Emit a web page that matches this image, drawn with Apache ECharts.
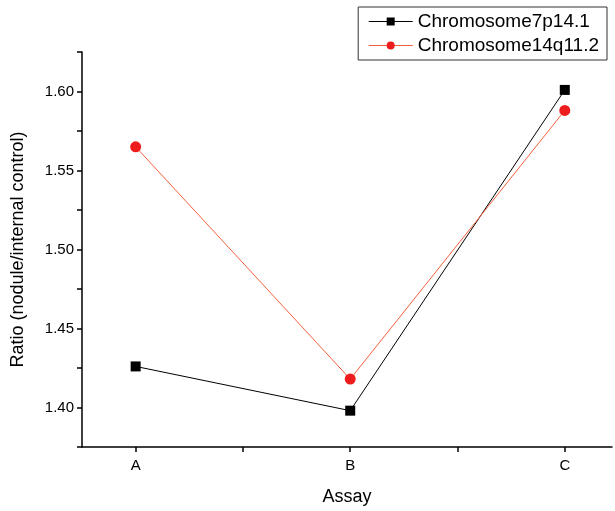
<!DOCTYPE html>
<html>
<head>
<meta charset="utf-8">
<script src="https://cdn.jsdelivr.net/npm/echarts@6/dist/echarts.min.js"></script>
<style>
  html, body { margin: 0; padding: 0; background: #fff; }
  #chart { width: 615px; height: 511px; }
</style>
</head>
<body>
<div id="chart"></div>
<script>
var categories = ['A', 'B', 'C'];
var chr7 = [1.426, 1.398, 1.601];
var chr14 = [1.565, 1.418, 1.588];
var yLabels = [1.40, 1.45, 1.50, 1.55, 1.60];

var xPos = categories.map(function (c, i) { return i + 1; });
function pairs(vals) {
	return vals.map(function (v, i) { return [xPos[i], v]; });
}

var font = 'Liberation Sans, Arial, sans-serif';
var chart = echarts.init(document.getElementById('chart'));
chart.setOption({
	animation: false,
	grid: { left: 82, right: 3, top: 52, bottom: 63 },
	legend: {
		orient: 'vertical',
		right: 8,
		top: 7,
		padding: [5, 8, 5, 10],
		itemGap: 5,
		itemWidth: 44,
		itemHeight: 10,
		borderColor: '#333',
		borderWidth: 1,
		lineStyle: { width: 1 },
		textStyle: { fontFamily: font, fontSize: 19, color: '#000' },
		data: ['Chromosome7p14.1', 'Chromosome14q11.2']
	},
	xAxis: {
		type: 'value',
		min: 0.75,
		max: 3.22,
		name: 'Assay',
		nameLocation: 'middle',
		nameGap: 41,
		nameTextStyle: { fontFamily: font, fontSize: 18, color: '#000' },
		splitLine: { show: false },
		axisLine: { lineStyle: { color: '#000', width: 1.5 } },
		axisTick: {
			show: true, length: 5, inside: false,
			lineStyle: { color: '#000', width: 1.5 },
			customValues: [1, 1.5, 2, 2.5, 3]
		},
		axisLabel: {
			customValues: xPos,
			margin: 11,
			fontFamily: font, fontSize: 15, color: '#000',
			formatter: function (v) { return categories[Math.round(v) - 1]; }
		}
	},
	yAxis: {
		type: 'value',
		min: 1.375,
		max: 1.625,
		interval: 0.025,
		name: 'Ratio (nodule/internal control)',
		nameLocation: 'middle',
		nameGap: 55,
		nameTextStyle: { fontFamily: font, fontSize: 18, color: '#000' },
		splitLine: { show: false },
		axisLine: { show: true, lineStyle: { color: '#000', width: 1.5 } },
		axisTick: { show: true, length: 5, lineStyle: { color: '#000', width: 1.5 } },
		axisLabel: {
			customValues: yLabels,
			margin: 8,
			fontFamily: font, fontSize: 15, color: '#000',
			formatter: function (v) { return v.toFixed(2); }
		}
	},
	series: [{
		name: 'Chromosome7p14.1',
		type: 'line',
		data: pairs(chr7),
		symbol: 'rect',
		symbolSize: 10,
		itemStyle: { color: '#000' },
		lineStyle: { color: '#000', width: 1 }
	}, {
		name: 'Chromosome14q11.2',
		type: 'line',
		data: pairs(chr14),
		symbol: 'circle',
		symbolSize: 11,
		itemStyle: { color: '#ee1c1c' },
		lineStyle: { color: '#f5603c', width: 1 }
	}]
});
</script>
</body>
</html>
